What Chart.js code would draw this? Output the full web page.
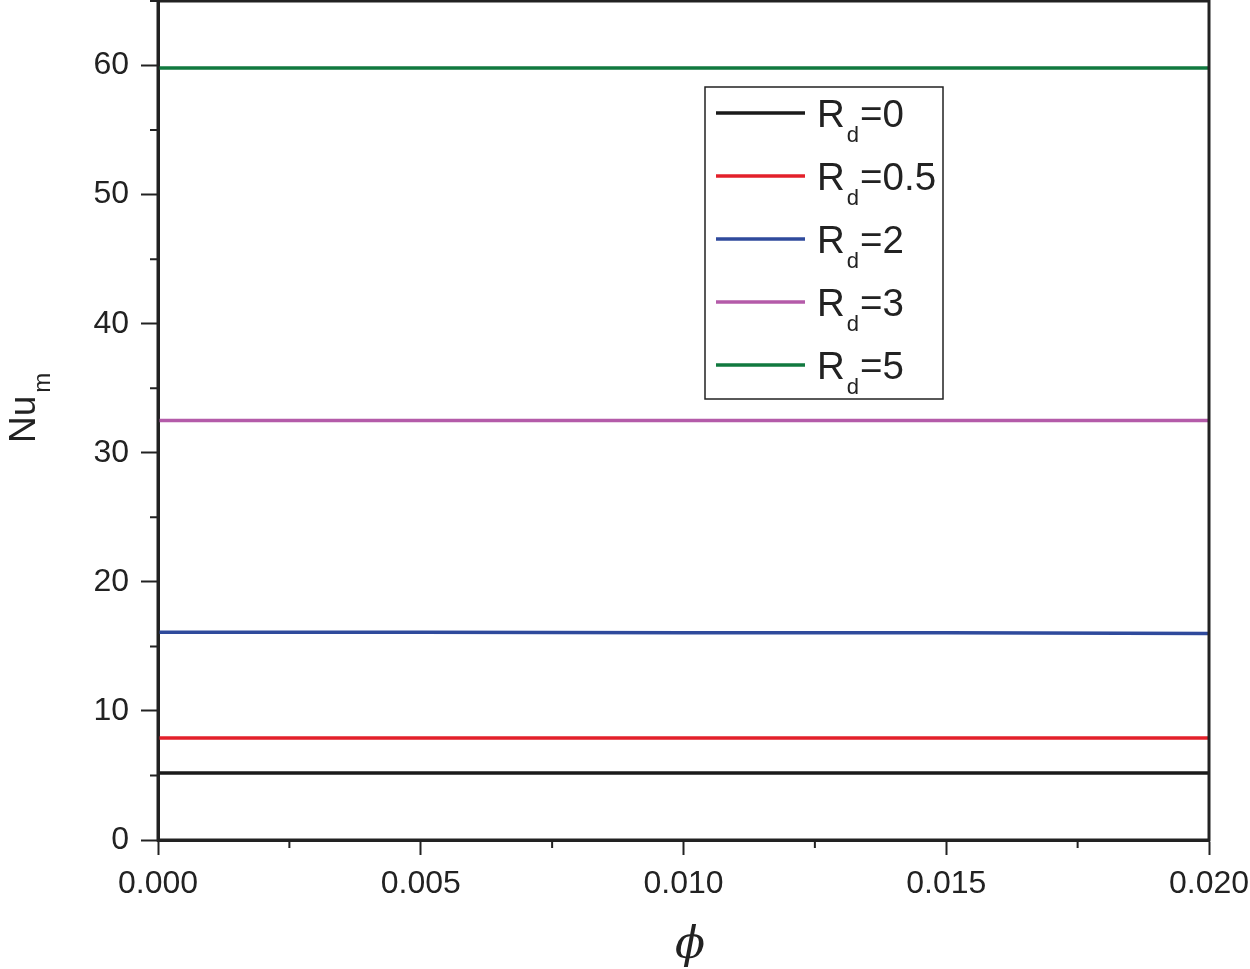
<!DOCTYPE html>
<html>
<head>
<meta charset="utf-8">
<script src="https://cdn.jsdelivr.net/npm/chart.js@4"></script>
<style>
  html, body { margin: 0; padding: 0; background: #fff; }
  #wrap { width: 1250px; height: 969px; }
</style>
</head>
<body>
<div id="wrap"><canvas id="chart" width="1250" height="969"></canvas></div>
<script>
// ── Data ─────────────────────────────────────────────────
const phi = [0, 0.005, 0.010, 0.015, 0.020];

const rd0  = [5.2, 5.2, 5.2, 5.2, 5.2];
const rd05 = [7.9, 7.9, 7.9, 7.9, 7.9];
const rd2  = [16.1, 16.1, 16.05, 16.05, 16.0];
const rd3  = [32.5, 32.5, 32.5, 32.5, 32.5];
const rd5  = [59.8, 59.8, 59.8, 59.8, 59.8];

const labels = ["R_d=0", "R_d=0.5", "R_d=2", "R_d=3", "R_d=5"];
const colors = ["#1a1a1a", "#e3202a", "#2f4a9c", "#b45ba9", "#11793f"];

const yTicks = [0, 10, 20, 30, 40, 50, 60];
const xTicks = [0, 0.005, 0.010, 0.015, 0.020];

const axisColor = "#222";
const font = "'Liberation Sans', Arial, sans-serif";

function series(values) {
  return values.map((v, i) => ({ x: phi[i], y: v }));
}

// ── Plugins ──────────────────────────────────────────────

const frame = {
  id: "frame",
  afterDraw(chart) {
    const { ctx, chartArea: a, scales: { x, y } } = chart;
    ctx.save();
    ctx.strokeStyle = axisColor;
    ctx.lineWidth = 3;
    ctx.strokeRect(a.left, a.top, a.right - a.left, a.bottom - a.top);

    // minor ticks
    ctx.lineWidth = 2;
    ctx.beginPath();
    for (let v = 5; v < 66; v += 10) {
      const py = y.getPixelForValue(v);
      ctx.moveTo(a.left - 8, py);
      ctx.lineTo(a.left, py);
    }
    for (let v = 0.0025; v < 0.02; v += 0.005) {
      const px = x.getPixelForValue(v);
      ctx.moveTo(px, a.bottom);
      ctx.lineTo(px, a.bottom + 8);
    }
    ctx.stroke();

    // y title
    ctx.fillStyle = axisColor;
    ctx.translate(35, 443);
    ctx.rotate(-Math.PI / 2);
    ctx.textBaseline = "alphabetic";
    ctx.textAlign = "left";
    ctx.font = "37px " + font;
    ctx.fillText("Nu", 0, 0);
    const w = ctx.measureText("Nu").width;
    ctx.font = "24px " + font;
    ctx.fillText("m", w + 3, 15);
    ctx.setTransform(1, 0, 0, 1, 0, 0);

    // x title
    ctx.font = "italic 44px 'DejaVu Serif', 'Liberation Serif', serif";
    ctx.textAlign = "center";
    ctx.fillText("\u03D5", 690, 958);
    ctx.restore();
  }
};

const legendBox = {
  id: "legendBox",
  afterDraw(chart) {
    const { ctx } = chart;
    ctx.save();
    ctx.strokeStyle = axisColor;
    ctx.lineWidth = 1.5;
    ctx.fillStyle = "#fff";
    ctx.fillRect(705, 87, 238, 312);
    ctx.strokeRect(705, 87, 238, 312);
    chart.data.datasets.forEach((ds, i) => {
      const cy = 113 + i * 63;
      ctx.strokeStyle = ds.borderColor;
      ctx.lineWidth = 3.5;
      ctx.beginPath();
      ctx.moveTo(716, cy);
      ctx.lineTo(805, cy);
      ctx.stroke();

      const [base, rest] = ds.label.split("_");
      const sub = rest[0];
      const tail = rest.slice(1);
      ctx.fillStyle = axisColor;
      ctx.textAlign = "left";
      ctx.textBaseline = "alphabetic";
      ctx.font = "38.5px " + font;
      ctx.fillText(base, 817, cy + 14);
      let xx = 817 + ctx.measureText(base).width;
      ctx.font = "22px " + font;
      ctx.fillText(sub, xx + 2, cy + 29);
      xx += ctx.measureText(sub).width + 3;
      ctx.font = "38.5px " + font;
      ctx.fillText(tail, xx, cy + 14);
    });
    ctx.restore();
  }
};

// ── Chart ────────────────────────────────────────────────

new Chart(document.getElementById("chart"), {
  type: "line",
  data: {
    datasets: [rd0, rd05, rd2, rd3, rd5].map((d, i) => ({
      label: labels[i],
      data: series(d),
      borderColor: colors[i],
      borderWidth: 3.5,
      pointRadius: 0,
      fill: false,
      tension: 0
    }))
  },
  options: {
    responsive: false,
    animation: false,
    layout: { padding: { top: 1, right: 41, left: 0, bottom: 0 } },
    plugins: { legend: { display: false }, tooltip: { enabled: false } },
    scales: {
      x: {
        type: "linear",
        min: 0,
        max: 0.02,
        afterFit: (s) => { s.height = 129; s.paddingLeft = 0; s.paddingRight = 0; },
        afterBuildTicks: (s) => { s.ticks = xTicks.map(v => ({ value: v })); },
        border: { display: true, color: axisColor, width: 3 },
        grid: { drawOnChartArea: false, drawTicks: true, tickLength: 15, tickWidth: 2, tickColor: axisColor },
        ticks: {
          color: axisColor,
          padding: 10,
          maxRotation: 0,
          font: { family: font, size: 32 },
          callback: (v) => Number(v).toFixed(3)
        }
      },
      y: {
        min: 0,
        max: 65,
        afterFit: (s) => { s.width = 158; s.paddingTop = 0; s.paddingBottom = 0; },
        afterBuildTicks: (s) => { s.ticks = yTicks.map(v => ({ value: v })); },
        border: { display: true, color: axisColor, width: 3 },
        grid: { drawOnChartArea: false, drawTicks: true, tickLength: 17, tickWidth: 2, tickColor: axisColor },
        ticks: {
          color: axisColor,
          padding: 12,
          font: { family: font, size: 32 },
          callback: (v) => String(v)
        }
      }
    }
  },
  plugins: [frame, legendBox]
});
</script>
</body>
</html>
